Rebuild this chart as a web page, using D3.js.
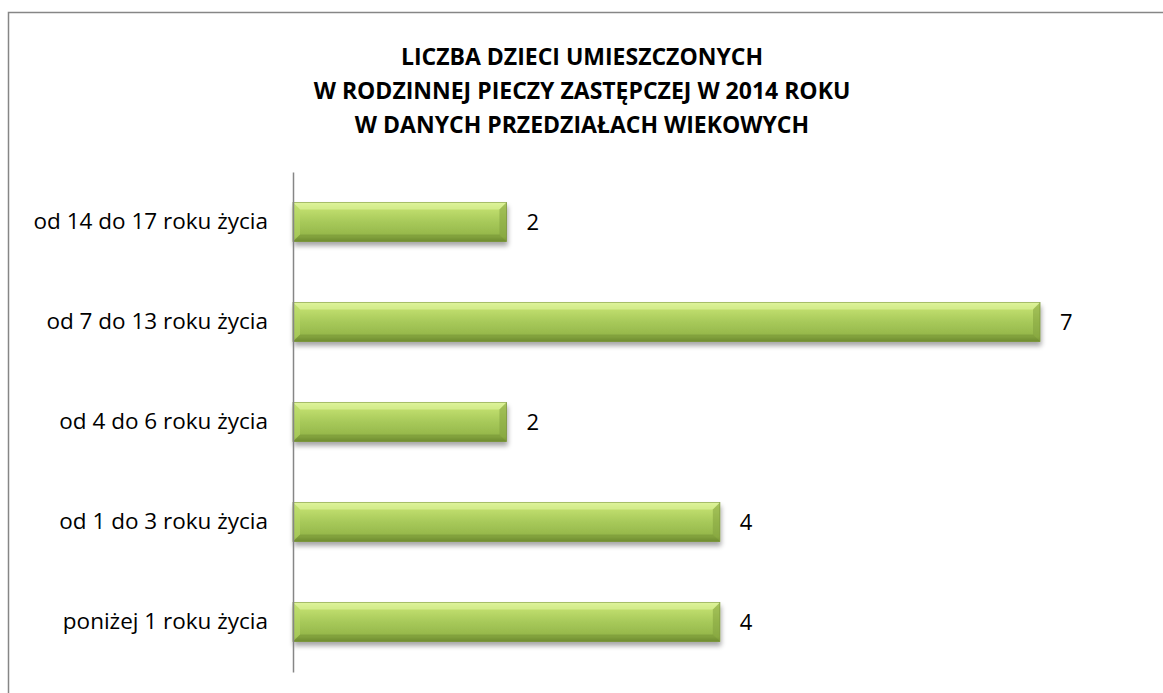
<!DOCTYPE html>
<html><head><meta charset="utf-8">
<script src="https://cdn.jsdelivr.net/npm/d3@7"></script>
<style>body{margin:0;background:#fff}svg{display:block}</style>
</head><body>
<svg id="c" width="1163" height="693"></svg>
<script>
const categories = ["od 14 do 17 roku życia","od 7 do 13 roku życia","od 4 do 6 roku życia","od 1 do 3 roku życia","poniżej 1 roku życia"];
const values = [2,7,2,4,4];
const titleLines = ["LICZBA DZIECI UMIESZCZONYCH","W RODZINNEJ PIECZY ZASTĘPCZEJ W 2014 ROKU","W DANYCH PRZEDZIAŁACH WIEKOWYCH"];

const svg = d3.select("#c");
const font = "'Open Sans', sans-serif";
const defs = svg.append("defs");
const g1 = defs.append("linearGradient").attr("id","barGrad").attr("x1",0).attr("y1",0).attr("x2",0).attr("y2",1);
[[0,"#d6ef8e"],[0.12,"#c3e070"],[0.5,"#a7c95a"],[0.88,"#93b548"],[1,"#6f8c2f"]].forEach(([o,c])=>g1.append("stop").attr("offset",o).attr("stop-color",c));
const f = defs.append("filter").attr("id","sh").attr("x","-5%").attr("y","-20%").attr("width","110%").attr("height","160%");
f.append("feGaussianBlur").attr("in","SourceAlpha").attr("stdDeviation",2.5);
f.append("feOffset").attr("dx",1).attr("dy",4).attr("result","b");
f.append("feComponentTransfer").append("feFuncA").attr("type","linear").attr("slope",0.35);
const m = f.append("feMerge"); m.append("feMergeNode"); m.append("feMergeNode").attr("in","SourceGraphic");

// outer border
svg.append("rect").attr("x",8.5).attr("y",12.5).attr("width",1170).attr("height",700)
  .attr("fill","none").attr("stroke","#868686").attr("stroke-width",1.5);

// title
svg.append("text").attr("text-anchor","middle").attr("font-family",font).attr("font-weight","bold")
  .attr("font-size",23).attr("fill","#000")
  .selectAll("tspan").data(titleLines).join("tspan")
  .attr("x",582).attr("y",(d,i)=>65+i*34).text(d=>d);

const x0 = 293;
const x = d3.scaleLinear().domain([0,7]).range([x0,1040]);
const y = d3.scaleBand().domain(categories).range([172,672]).paddingInner(0.61).paddingOuter(0.305);

const bars = svg.append("g");
categories.forEach((c,i)=>{
  const bx = x(0), by = y(c), bw = x(values[i])-x(0), bh = y.bandwidth();
  const g = bars.append("g").attr("filter","url(#sh)");
  g.append("rect").attr("x",bx).attr("y",by).attr("width",bw).attr("height",bh).attr("fill","url(#barGrad)")
    .attr("stroke","#7a9638").attr("stroke-width",0.8);
  const bv = 7;
  g.append("path").attr("d",`M${bx},${by}L${bx+bw},${by}L${bx+bw-bv},${by+bv}L${bx+bv},${by+bv}Z`).attr("fill","#e4f7a6").attr("opacity",0.55);
  g.append("path").attr("d",`M${bx},${by+bh}L${bx+bw},${by+bh}L${bx+bw-bv},${by+bh-bv}L${bx+bv},${by+bh-bv}Z`).attr("fill","#6d8a2e").attr("opacity",0.45);
  g.append("path").attr("d",`M${bx+bw},${by}L${bx+bw},${by+bh}L${bx+bw-bv},${by+bh-bv}L${bx+bw-bv},${by+bv}Z`).attr("fill","#7f9e3c").attr("opacity",0.5);
  g.append("path").attr("d",`M${bx},${by}L${bx},${by+bh}L${bx+bv},${by+bh-bv}L${bx+bv},${by+bv}Z`).attr("fill","#b9db68").attr("opacity",0.5);
  svg.append("text").attr("x",x(values[i])+20).attr("y",by+bh/2).attr("dy","0.35em")
    .attr("font-family",font).attr("font-size",22).attr("fill","#000").text(values[i]);
});

// axis
const ax = svg.append("g").attr("transform",`translate(${x0},0)`).call(d3.axisLeft(y).tickSize(0).tickPadding(25));
ax.select(".domain").attr("stroke","#868686").attr("stroke-width",1.5);
ax.selectAll("text").attr("font-family",font).attr("font-size",22.5).attr("fill","#000");
</script>
</body></html>
